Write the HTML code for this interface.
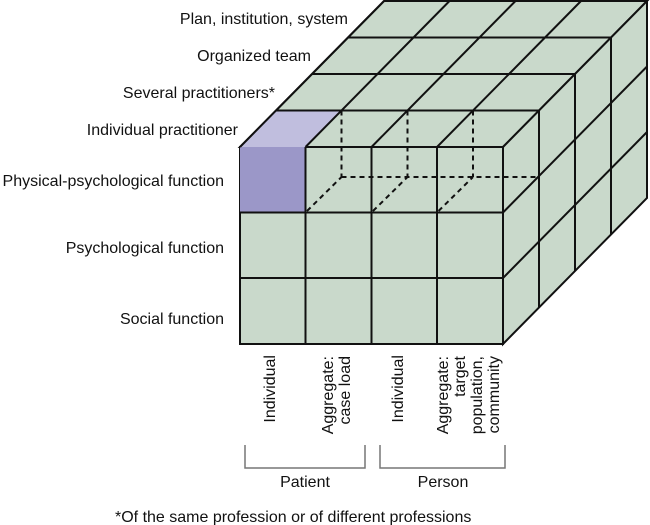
<!DOCTYPE html>
<html><head><meta charset="utf-8"><style>
body{margin:0;background:#fff}
svg{display:block}
text{font-family:"Liberation Sans",Arial,sans-serif;font-size:16px;fill:#111}
</style></head><body>
<svg width="650" height="525" viewBox="0 0 650 525" xmlns="http://www.w3.org/2000/svg">
<g stroke="#111" stroke-width="2" fill="#c9d9cb" stroke-linejoin="miter">
<polygon points="240,147 503,147 647,1 384,1"/>
<polygon points="503,147 647,1 647,198 503,344"/>
<rect x="240" y="147" width="263" height="197"/>
</g>
<rect x="240" y="147" width="65.5" height="65.5" fill="#9b97c8"/>
<polygon points="240,147 305.5,147 341.5,110.5 276,110.5" fill="#c0bede"/>
<g stroke="#111" stroke-width="2" fill="none">
<line x1="305.5" y1="147" x2="305.5" y2="344"/>
<line x1="371.5" y1="147" x2="371.5" y2="344"/>
<line x1="437" y1="147" x2="437" y2="344"/>
<line x1="240" y1="212.5" x2="503" y2="212.5"/>
<line x1="240" y1="278" x2="503" y2="278"/>
<line x1="240" y1="147" x2="384" y2="1"/>
<line x1="305.5" y1="147" x2="449.5" y2="1"/>
<line x1="371.5" y1="147" x2="515.5" y2="1"/>
<line x1="437" y1="147" x2="581" y2="1"/>
<line x1="276" y1="110.5" x2="539" y2="110.5"/>
<line x1="312" y1="74" x2="575" y2="74"/>
<line x1="348" y1="37.5" x2="611" y2="37.5"/>
<line x1="539" y1="110.5" x2="539" y2="307.5"/>
<line x1="575" y1="74" x2="575" y2="271"/>
<line x1="611" y1="37.5" x2="611" y2="234.5"/>
<line x1="503" y1="212.5" x2="647" y2="66.5"/>
<line x1="503" y1="278" x2="647" y2="132"/>
</g>
<g stroke="#111" stroke-width="2" fill="none" stroke-dasharray="5,4">
<line x1="341.5" y1="110.5" x2="341.5" y2="177"/>
<line x1="407.5" y1="110.5" x2="407.5" y2="177"/>
<line x1="473" y1="110.5" x2="473" y2="177"/>
<line x1="341.5" y1="177" x2="539" y2="177"/>
<line x1="307" y1="211" x2="341.5" y2="177"/>
<line x1="373" y1="211" x2="407.5" y2="177"/>
<line x1="438.5" y1="211" x2="473" y2="177"/>
</g>
<g text-anchor="end">
<text x="348" y="24">Plan, institution, system</text>
<text x="311" y="61">Organized team</text>
<text x="275" y="98">Several practitioners*</text>
<text x="238" y="135">Individual practitioner</text>
<text x="224" y="186">Physical-psychological function</text>
<text x="224" y="253">Psychological function</text>
<text x="224" y="324">Social function</text>
</g>
<g text-anchor="end">
<text transform="translate(275,355) rotate(-90)">Individual</text>
<text transform="translate(333,356) rotate(-90)">Aggregate:</text>
<text transform="translate(350,356) rotate(-90)">case load</text>
<text transform="translate(403,355) rotate(-90)">Individual</text>
<text transform="translate(448,356) rotate(-90)">Aggregate:</text>
<text transform="translate(465,356) rotate(-90)">target</text>
<text transform="translate(482,356) rotate(-90)">population,</text>
<text transform="translate(499,356) rotate(-90)">community</text>
</g>
<g stroke="#777" stroke-width="1.5" fill="none">
<polyline points="245,445 245,468 365,468 365,445"/>
<polyline points="380,445 380,468 505,468 505,445"/>
</g>
<text x="305" y="487" text-anchor="middle">Patient</text>
<text x="443" y="487" text-anchor="middle">Person</text>
<text x="115" y="522">*Of the same profession or of different professions</text>
</svg>
</body></html>
